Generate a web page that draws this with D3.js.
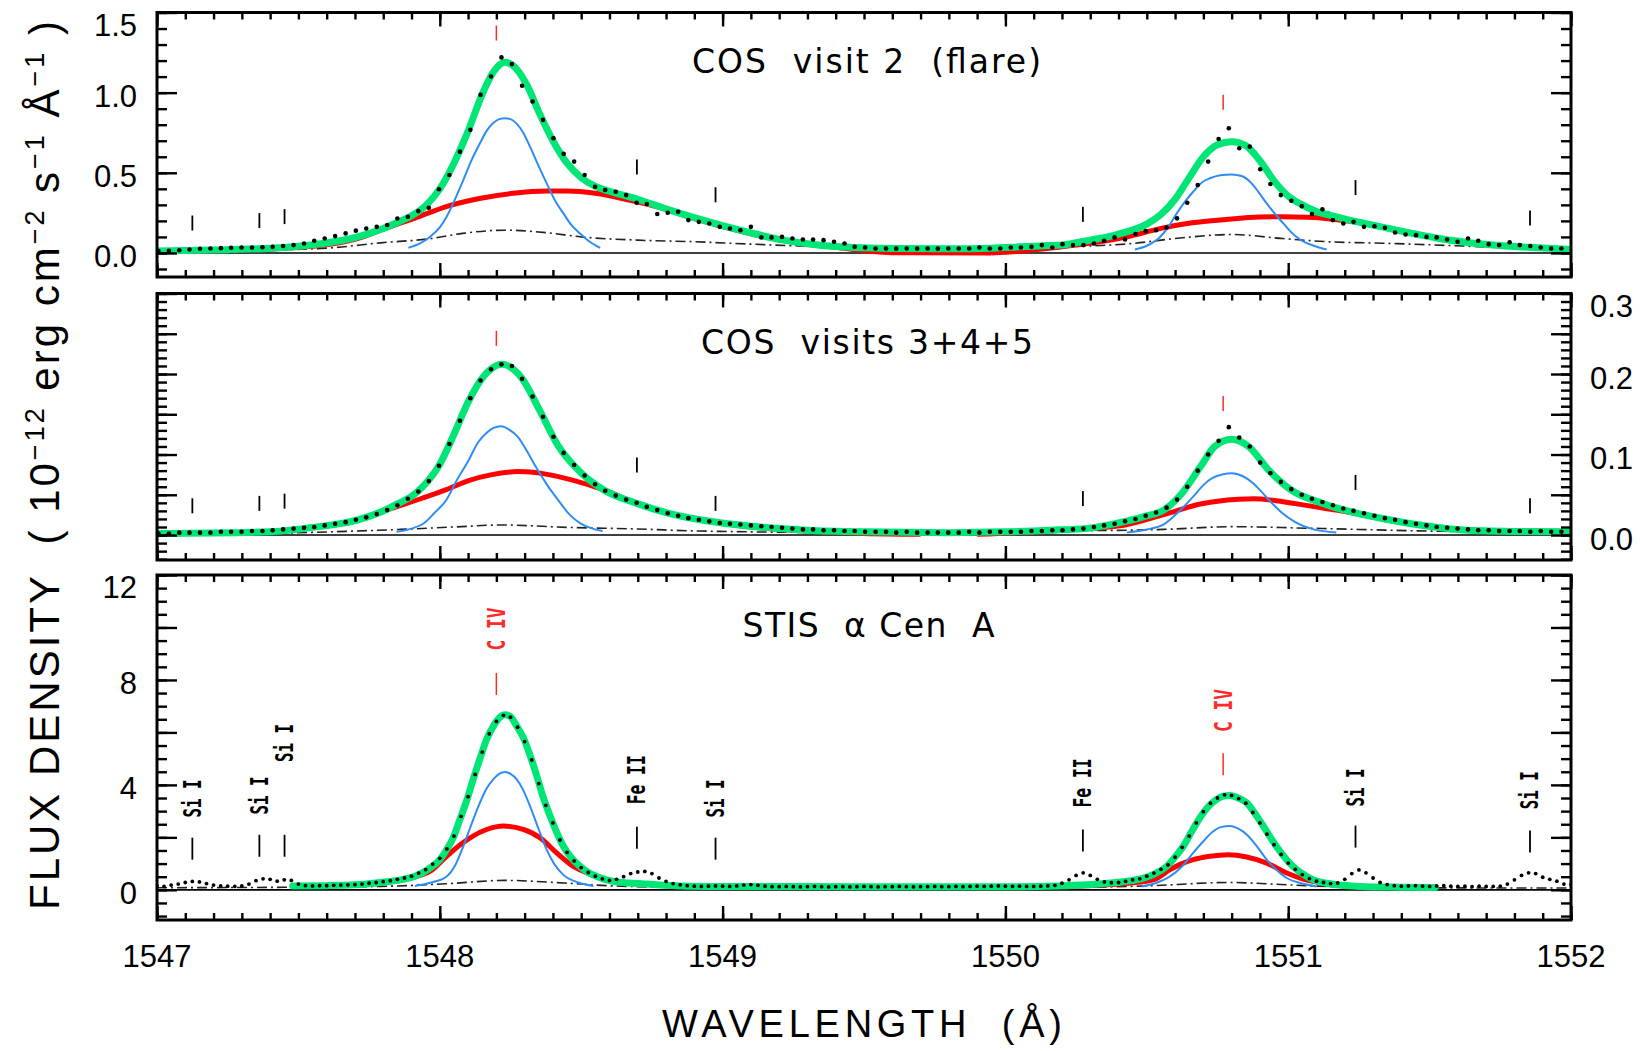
<!DOCTYPE html>
<html>
<head>
<meta charset="utf-8">
<script src="https://cdn.jsdelivr.net/npm/d3@7"></script>
<style>
  body { margin: 0; background: #fff; }
  svg { display: block; }
  text { font-family: "Liberation Sans", Arial, sans-serif; fill: #000; }
</style>
</head>
<body>
<svg id="chart" width="1640" height="1051"></svg>
<script>
/*
 * C IV doublet profiles: COS flare, COS quiescent, STIS alpha Cen A
 */

// ---- wavelength grids of the plotted spectra (A) ----
let cosWave = [
  1547.005,1547.042,1547.079,1547.115,1547.152,1547.189,1547.226,1547.262,1547.299,1547.336,
  1547.373,1547.409,1547.446,1547.483,1547.520,1547.556,1547.593,1547.630,1547.667,1547.703,
  1547.740,1547.777,1547.814,1547.850,1547.887,1547.924,1547.961,1547.997,1548.034,1548.071,
  1548.108,1548.144,1548.181,1548.218,1548.255,1548.291,1548.328,1548.365,1548.402,1548.438,
  1548.475,1548.512,1548.549,1548.585,1548.622,1548.659,1548.696,1548.732,1548.769,1548.806,
  1548.843,1548.879,1548.916,1548.953,1548.990,1549.026,1549.063,1549.100,1549.137,1549.173,
  1549.210,1549.247,1549.284,1549.320,1549.357,1549.394,1549.431,1549.467,1549.504,1549.541,
  1549.578,1549.614,1549.651,1549.688,1549.725,1549.761,1549.798,1549.835,1549.872,1549.908,
  1549.945,1549.982,1550.019,1550.055,1550.092,1550.129,1550.166,1550.202,1550.239,1550.276,
  1550.313,1550.349,1550.386,1550.423,1550.460,1550.496,1550.533,1550.570,1550.607,1550.643,
  1550.680,1550.717,1550.754,1550.790,1550.827,1550.864,1550.901,1550.937,1550.974,1551.011,
  1551.048,1551.084,1551.121,1551.158,1551.195,1551.231,1551.268,1551.305,1551.342,1551.378,
  1551.415,1551.452,1551.489,1551.525,1551.562,1551.599,1551.636,1551.672,1551.709,1551.746,
  1551.783,1551.819,1551.856,1551.893,1551.930,1551.966
];

let stisWave = [
  1547.000,1547.025,1547.050,1547.075,1547.100,1547.125,1547.150,1547.175,1547.200,1547.225,
  1547.250,1547.275,1547.300,1547.325,1547.350,1547.375,1547.400,1547.425,1547.450,1547.475,
  1547.500,1547.525,1547.550,1547.575,1547.600,1547.625,1547.650,1547.675,1547.700,1547.725,
  1547.750,1547.775,1547.800,1547.825,1547.850,1547.875,1547.900,1547.925,1547.950,1547.975,
  1548.000,1548.025,1548.050,1548.075,1548.100,1548.125,1548.150,1548.175,1548.200,1548.225,
  1548.250,1548.275,1548.300,1548.325,1548.350,1548.375,1548.400,1548.425,1548.450,1548.475,
  1548.500,1548.525,1548.550,1548.575,1548.600,1548.625,1548.650,1548.675,1548.700,1548.725,
  1548.750,1548.775,1548.800,1548.825,1548.850,1548.875,1548.900,1548.925,1548.950,1548.975,
  1549.000,1549.025,1549.050,1549.075,1549.100,1549.125,1549.150,1549.175,1549.200,1549.225,
  1549.250,1549.275,1549.300,1549.325,1549.350,1549.375,1549.400,1549.425,1549.450,1549.475,
  1549.500,1549.525,1549.550,1549.575,1549.600,1549.625,1549.650,1549.675,1549.700,1549.725,
  1549.750,1549.775,1549.800,1549.825,1549.850,1549.875,1549.900,1549.925,1549.950,1549.975,
  1550.000,1550.025,1550.050,1550.075,1550.100,1550.125,1550.150,1550.175,1550.200,1550.225,
  1550.250,1550.275,1550.300,1550.325,1550.350,1550.375,1550.400,1550.425,1550.450,1550.475,
  1550.500,1550.525,1550.550,1550.575,1550.600,1550.625,1550.650,1550.675,1550.700,1550.725,
  1550.750,1550.775,1550.800,1550.825,1550.850,1550.875,1550.900,1550.925,1550.950,1550.975,
  1551.000,1551.025,1551.050,1551.075,1551.100,1551.125,1551.150,1551.175,1551.200,1551.225,
  1551.250,1551.275,1551.300,1551.325,1551.350,1551.375,1551.400,1551.425,1551.450,1551.475,
  1551.500,1551.525,1551.550,1551.575,1551.600,1551.625,1551.650,1551.675,1551.700,1551.725,
  1551.750,1551.775,1551.800,1551.825,1551.850,1551.875,1551.900,1551.925,1551.950,1551.975,
  1552.000
];

// ---- observed flux (dots), 10^-12 erg cm-2 s-1 A-1 ----
let flareDots = [
  0.012,0.013,0.017,0.022,0.026,0.028,0.030,0.032,0.034,0.034,
  0.036,0.038,0.043,0.049,0.059,0.076,0.090,0.105,0.122,0.139,
  0.153,0.163,0.174,0.215,0.226,0.261,0.282,0.397,0.486,0.632,
  0.768,0.986,1.101,1.220,1.178,1.043,0.945,0.830,0.716,0.618,
  0.570,0.486,0.413,0.393,0.382,0.361,0.313,0.305,0.243,0.251,
  0.257,0.205,0.194,0.184,0.163,0.153,0.142,0.163,0.097,0.097,
  0.100,0.090,0.084,0.084,0.080,0.070,0.059,0.038,0.034,0.028,
  0.028,0.027,0.028,0.027,0.028,0.027,0.028,0.028,0.028,0.034,
  0.028,0.028,0.034,0.034,0.038,0.049,0.034,0.055,0.049,0.049,
  0.059,0.076,0.097,0.084,0.118,0.136,0.142,0.159,0.216,0.313,
  0.424,0.570,0.711,0.778,0.653,0.663,0.522,0.430,0.361,0.326,
  0.292,0.243,0.272,0.205,0.184,0.194,0.163,0.167,0.157,0.128,
  0.115,0.111,0.100,0.097,0.084,0.070,0.090,0.076,0.055,0.049,
  0.066,0.049,0.043,0.034,0.028,0.028
];

let quietDots = [
  0.002,0.002,0.003,0.003,0.003,0.003,0.004,0.004,0.004,0.005,
  0.005,0.006,0.007,0.008,0.009,0.010,0.012,0.014,0.016,0.019,
  0.022,0.026,0.031,0.037,0.045,0.054,0.067,0.086,0.113,0.142,
  0.170,0.192,0.206,0.212,0.210,0.194,0.172,0.147,0.122,0.102,
  0.087,0.074,0.063,0.055,0.049,0.044,0.040,0.035,0.031,0.027,
  0.024,0.021,0.019,0.017,0.015,0.014,0.013,0.012,0.011,0.010,
  0.009,0.008,0.007,0.007,0.006,0.006,0.005,0.005,0.004,0.004,
  0.004,0.003,0.004,0.003,0.003,0.003,0.003,0.003,0.004,0.003,
  0.004,0.004,0.004,0.004,0.005,0.005,0.006,0.006,0.007,0.008,
  0.010,0.012,0.014,0.017,0.020,0.024,0.028,0.034,0.044,0.060,
  0.080,0.100,0.117,0.134,0.121,0.110,0.090,0.077,0.066,0.057,
  0.050,0.045,0.041,0.037,0.033,0.030,0.027,0.024,0.021,0.019,
  0.016,0.014,0.012,0.010,0.009,0.008,0.007,0.006,0.006,0.005,
  0.005,0.005,0.004,0.005,0.004,0.004
];

let stisDots = [
  0.15,0.13,0.18,0.22,0.28,0.32,0.30,0.24,0.18,0.15,
  0.14,0.13,0.15,0.22,0.35,0.42,0.40,0.33,0.38,0.36,
  0.22,0.16,0.15,0.16,0.16,0.17,0.18,0.19,0.20,0.22,
  0.25,0.28,0.31,0.35,0.40,0.45,0.52,0.64,0.77,0.98,
  1.20,1.56,2.05,2.80,3.55,4.40,5.25,5.95,6.42,6.65,
  6.58,6.20,5.65,4.95,4.05,3.22,2.55,1.90,1.43,1.10,
  0.85,0.66,0.52,0.42,0.36,0.40,0.50,0.62,0.68,0.70,
  0.62,0.45,0.32,0.24,0.19,0.16,0.14,0.13,0.14,0.15,
  0.14,0.13,0.15,0.18,0.20,0.17,0.14,0.12,0.12,0.13,
  0.12,0.11,0.12,0.13,0.12,0.11,0.12,0.12,0.11,0.12,
  0.13,0.12,0.11,0.12,0.12,0.13,0.12,0.11,0.12,0.12,
  0.13,0.12,0.12,0.13,0.12,0.13,0.14,0.13,0.14,0.15,
  0.14,0.13,0.14,0.13,0.13,0.14,0.15,0.17,0.25,0.38,
  0.55,0.65,0.55,0.40,0.30,0.27,0.28,0.32,0.38,0.42,
  0.52,0.64,0.78,0.95,1.25,1.62,2.05,2.55,2.98,3.30,
  3.50,3.62,3.60,3.48,3.30,2.95,2.55,2.12,1.72,1.35,
  1.02,0.78,0.58,0.43,0.33,0.28,0.24,0.26,0.40,0.62,
  0.76,0.65,0.45,0.28,0.20,0.16,0.14,0.15,0.16,0.14,
  0.13,0.15,0.16,0.14,0.13,0.14,0.12,0.14,0.13,0.13,
  0.14,0.22,0.38,0.55,0.65,0.62,0.48,0.40,0.33,0.22,
  0.20
];

// ---- fitted profiles [wavelength, flux] ----
// flare (COS visit 2)
let flareTotal = [
  [1547.00,0.012],[1547.20,0.018],[1547.40,0.030],[1547.50,0.042],[1547.60,0.062],[1547.70,0.095],
  [1547.80,0.152],[1547.85,0.190],[1547.90,0.232],[1547.95,0.295],[1548.00,0.400],[1548.05,0.560],
  [1548.10,0.760],[1548.15,0.990],[1548.19,1.130],[1548.23,1.190],[1548.27,1.150],[1548.31,1.040],
  [1548.35,0.880],[1548.40,0.700],[1548.45,0.560],[1548.50,0.470],[1548.55,0.415],[1548.60,0.385],
  [1548.70,0.335],[1548.80,0.275],[1548.90,0.220],[1549.00,0.170],[1549.10,0.125],[1549.20,0.085],
  [1549.30,0.058],[1549.40,0.040],[1549.50,0.032],[1549.60,0.028],[1549.80,0.026],[1549.95,0.030],
  [1550.05,0.038],[1550.15,0.046],[1550.20,0.050],[1550.30,0.080],[1550.40,0.118],[1550.50,0.180],
  [1550.55,0.240],[1550.60,0.335],[1550.65,0.470],[1550.70,0.600],[1550.75,0.675],[1550.80,0.694],
  [1550.85,0.670],[1550.90,0.575],[1550.95,0.450],[1551.00,0.355],[1551.05,0.300],[1551.10,0.258],
  [1551.15,0.235],[1551.25,0.192],[1551.35,0.155],[1551.45,0.118],[1551.55,0.085],[1551.65,0.062],
  [1551.75,0.046],[1551.85,0.035],[1551.95,0.027],[1552.00,0.022]
];
let flareBroadA = [
  [1547.00,0.008],[1547.20,0.014],[1547.40,0.025],[1547.55,0.042],[1547.65,0.065],[1547.72,0.095],
  [1547.79,0.142],[1547.85,0.180],[1547.91,0.216],[1548.02,0.288],[1548.14,0.340],[1548.26,0.372],
  [1548.38,0.386],[1548.45,0.386],[1548.55,0.372],[1548.67,0.330],[1548.79,0.278],[1548.90,0.215],
  [1549.00,0.165],[1549.10,0.120],[1549.20,0.082],[1549.30,0.054],[1549.40,0.036],[1549.50,0.013],
  [1549.60,0.002],[1549.95,0.000]
];
let flareBroadB = [
  [1549.95,0.000],[1550.05,0.010],[1550.19,0.036],[1550.31,0.063],[1550.43,0.100],[1550.55,0.153],
  [1550.66,0.188],[1550.78,0.209],[1550.90,0.224],[1550.98,0.226],[1551.07,0.222],[1551.14,0.214],
  [1551.25,0.190],[1551.35,0.155],[1551.45,0.118],[1551.55,0.085],[1551.65,0.062],[1551.75,0.045],
  [1551.85,0.034],[1551.95,0.026],[1552.00,0.022]
];
let flareNarrowA = [
  [1547.889,0.032],[1547.930,0.060],[1547.965,0.100],[1548.000,0.160],[1548.024,0.226],[1548.050,0.320],
  [1548.083,0.455],[1548.110,0.570],[1548.142,0.684],[1548.165,0.760],[1548.189,0.810],[1548.210,0.835],
  [1548.230,0.840],[1548.250,0.835],[1548.270,0.810],[1548.295,0.750],[1548.319,0.663],[1548.350,0.540],
  [1548.378,0.434],[1548.410,0.320],[1548.437,0.247],[1548.465,0.175],[1548.496,0.122],[1548.530,0.070],
  [1548.567,0.032]
];
let flareNarrowB = [
  [1550.458,0.022],[1550.500,0.045],[1550.547,0.100],[1550.575,0.160],[1550.606,0.247],[1550.635,0.320],
  [1550.664,0.382],[1550.695,0.440],[1550.723,0.466],[1550.760,0.485],[1550.800,0.490],[1550.835,0.480],
  [1550.865,0.444],[1550.895,0.380],[1550.924,0.309],[1550.955,0.240],[1550.983,0.184],[1551.010,0.130],
  [1551.042,0.084],[1551.090,0.045],[1551.136,0.022]
];
let flareOther = [
  [1547.00,0.008],[1547.30,0.015],[1547.60,0.030],[1547.79,0.063],[1547.97,0.090],[1548.08,0.122],
  [1548.23,0.142],[1548.38,0.126],[1548.50,0.100],[1548.70,0.080],[1548.90,0.070],[1549.10,0.055],
  [1549.25,0.045],[1549.50,0.032],[1549.80,0.026],[1550.00,0.030],[1550.19,0.038],[1550.45,0.059],
  [1550.60,0.090],[1550.80,0.115],[1550.98,0.090],[1551.14,0.070],[1551.35,0.060],[1551.62,0.043],
  [1551.75,0.034],[1552.00,0.022]
];

// quiescent (COS visits 3+4+5)
let quietTotal = [
  [1547.00,0.002],[1547.40,0.004],[1547.55,0.0095],[1547.71,0.0187],[1547.83,0.035],[1547.94,0.060],
  [1548.00,0.088],[1548.05,0.125],[1548.10,0.165],[1548.15,0.195],[1548.18,0.206],[1548.22,0.212],
  [1548.26,0.206],[1548.29,0.195],[1548.35,0.157],[1548.42,0.110],[1548.50,0.077],[1548.58,0.056],
  [1548.69,0.040],[1548.81,0.027],[1548.92,0.019],[1549.10,0.011],[1549.30,0.006],[1549.50,0.004],
  [1549.80,0.003],[1550.00,0.004],[1550.16,0.006],[1550.29,0.0083],[1550.42,0.0166],[1550.49,0.023],
  [1550.56,0.031],[1550.62,0.050],[1550.69,0.085],[1550.74,0.110],[1550.80,0.119],[1550.86,0.110],
  [1550.93,0.081],[1551.01,0.056],[1551.12,0.0395],[1551.22,0.029],[1551.36,0.0187],[1551.49,0.0112],
  [1551.62,0.0062],[1551.80,0.0045],[1552.00,0.004]
];
let quietBroadA = [
  [1547.00,0.002],[1547.40,0.004],[1547.55,0.009],[1547.71,0.018],[1547.83,0.033],[1547.94,0.046],
  [1548.02,0.056],[1548.11,0.0685],[1548.18,0.0747],[1548.276,0.0788],[1548.37,0.076],[1548.466,0.0685],
  [1548.58,0.056],[1548.69,0.040],[1548.81,0.027],[1548.92,0.019],[1549.10,0.010],[1549.30,0.005],
  [1549.50,0.002],[1549.70,0.001]
];
let quietBroadB = [
  [1549.90,0.001],[1550.16,0.005],[1550.29,0.008],[1550.424,0.0125],[1550.557,0.025],[1550.69,0.0386],
  [1550.823,0.0444],[1550.878,0.0452],[1550.957,0.0427],[1551.09,0.0353],[1551.17,0.031],[1551.22,0.028],
  [1551.36,0.018],[1551.49,0.011],[1551.62,0.006],[1551.80,0.0042],[1552.00,0.0038]
];
let quietNarrowA = [
  [1547.847,0.004],[1547.900,0.008],[1547.944,0.0146],[1547.980,0.027],[1548.023,0.0436],[1548.060,0.068],
  [1548.102,0.093],[1548.135,0.115],[1548.166,0.127],[1548.190,0.133],[1548.216,0.135],[1548.245,0.131],
  [1548.276,0.122],[1548.310,0.103],[1548.339,0.085],[1548.380,0.062],[1548.418,0.0436],[1548.460,0.025],
  [1548.497,0.0146],[1548.540,0.008],[1548.576,0.005]
];
let quietNarrowB = [
  [1550.430,0.0033],[1550.500,0.007],[1550.557,0.0125],[1550.610,0.028],[1550.664,0.0477],[1550.700,0.062],
  [1550.731,0.0706],[1550.770,0.0755],[1550.800,0.0768],[1550.840,0.073],[1550.876,0.0644],[1550.910,0.052],
  [1550.943,0.0395],[1550.980,0.027],[1551.022,0.0166],[1551.090,0.007],[1551.170,0.0033]
];
let quietOther = [
  [1547.00,0.000],[1547.55,0.0033],[1547.86,0.007],[1548.05,0.010],[1548.22,0.0125],[1548.45,0.0095],
  [1548.70,0.0075],[1548.92,0.005],[1549.50,0.003],[1550.16,0.005],[1550.56,0.007],[1550.80,0.0104],
  [1551.09,0.0083],[1551.49,0.005],[1552.00,0.0033]
];

// alpha Cen A (STIS)
let stisTotal = [
  [1547.48,0.15],[1547.60,0.16],[1547.70,0.19],[1547.79,0.28],[1547.87,0.40],[1547.91,0.51],
  [1547.965,0.83],[1548.00,1.15],[1548.024,1.53],[1548.05,2.05],[1548.071,2.68],[1548.095,3.40],
  [1548.118,4.21],[1548.142,5.00],[1548.166,5.75],[1548.19,6.25],[1548.21,6.55],[1548.231,6.67],
  [1548.25,6.60],[1548.27,6.28],[1548.295,5.81],[1548.32,5.10],[1548.343,4.34],[1548.365,3.55],
  [1548.39,2.81],[1548.413,2.20],[1548.437,1.66],[1548.465,1.22],[1548.496,0.89],[1548.525,0.66],
  [1548.555,0.51],[1548.613,0.32],[1548.67,0.26],[1548.732,0.22],[1548.85,0.15],[1549.00,0.13],
  [1549.50,0.12],[1550.00,0.12],[1550.19,0.15],[1550.37,0.26],[1550.43,0.33],[1550.488,0.45],
  [1550.53,0.62],[1550.57,0.89],[1550.60,1.25],[1550.629,1.66],[1550.66,2.25],[1550.688,2.75],
  [1550.72,3.20],[1550.747,3.45],[1550.77,3.57],[1550.794,3.60],[1550.82,3.52],[1550.853,3.32],
  [1550.88,2.95],[1550.912,2.43],[1550.94,1.95],[1550.971,1.47],[1551.00,1.08],[1551.03,0.77],
  [1551.06,0.55],[1551.089,0.38],[1551.13,0.26],[1551.171,0.19],[1551.254,0.13],[1551.40,0.10],
  [1551.52,0.09]
];
let stisBroadA = [
  [1547.48,0.14],[1547.70,0.18],[1547.85,0.34],[1547.93,0.55],[1547.965,0.70],[1548.024,1.28],
  [1548.07,1.70],[1548.107,1.98],[1548.166,2.30],[1548.225,2.43],[1548.295,2.30],[1548.355,1.98],
  [1548.413,1.41],[1548.472,0.89],[1548.53,0.60],[1548.60,0.36],[1548.70,0.24],[1548.85,0.15],
  [1549.00,0.12]
];
let stisBroadB = [
  [1550.19,0.13],[1550.40,0.22],[1550.523,0.38],[1550.582,0.77],[1550.62,0.98],[1550.664,1.15],
  [1550.723,1.28],[1550.788,1.34],[1550.853,1.25],[1550.924,1.02],[1550.995,0.64],[1551.042,0.45],
  [1551.10,0.30],[1551.20,0.16],[1551.35,0.11],[1551.52,0.09]
];
let stisNarrowA = [
  [1547.912,0.15],[1547.970,0.28],[1548.024,0.51],[1548.055,0.95],[1548.083,1.66],[1548.112,2.50],
  [1548.142,3.32],[1548.165,3.85],[1548.189,4.21],[1548.210,4.42],[1548.231,4.49],[1548.250,4.42],
  [1548.272,4.21],[1548.295,3.80],[1548.319,3.19],[1548.350,2.30],[1548.378,1.53],[1548.405,0.98],
  [1548.437,0.57],[1548.490,0.28],[1548.543,0.15]
];
let stisNarrowB = [
  [1550.482,0.13],[1550.530,0.25],[1550.582,0.51],[1550.625,0.90],[1550.664,1.41],[1550.700,1.85],
  [1550.735,2.23],[1550.765,2.40],[1550.794,2.43],[1550.825,2.32],[1550.853,2.11],[1550.890,1.65],
  [1550.924,1.15],[1550.960,0.75],[1550.995,0.45],[1551.050,0.24],[1551.100,0.13]
];
let stisOther = [
  [1547.00,0.08],[1547.50,0.10],[1547.79,0.13],[1548.02,0.23],[1548.23,0.36],[1548.44,0.26],
  [1548.61,0.15],[1548.85,0.10],[1549.50,0.08],[1550.19,0.09],[1550.50,0.15],[1550.79,0.28],
  [1551.00,0.19],[1551.25,0.09],[1551.85,0.07],[1552.00,0.07]
];

// ---- line identifications ----
let lineNames = ['Si I', 'Si I', 'Si I', 'Fe II', 'Si I', 'Fe II', 'Si I', 'Si I'];
let lineWave = [1547.125, 1547.362, 1547.451, 1548.697, 1548.975, 1550.274, 1551.238, 1551.855];
let civWave = [1548.20, 1550.77];
let flareMarkY = [0.14, 0.155, 0.18, 0.49, 0.316, 0.194, 0.361, 0.172];
let flareCivY = [1.325, 0.893];
let quietMarkY = [0.027, 0.030, 0.0328, 0.0776, 0.030, 0.036, 0.056, 0.027];
let quietCivY = [0.235, 0.154];
let stisMarkY = [1.15, 1.26, 1.26, 1.57, 1.15, 1.46, 1.61, 1.42];
let stisCivY = [7.43, 4.37];
let stisLabelY = [2.76, 2.87, 4.87, 3.26, 2.76, 3.14, 3.18, 3.07];
let stisCivLabelY = [9.12, 6.02];

// ---- axes ----
let waveRange = [1547, 1552];
let waveTickLabels = [1547, 1548, 1549, 1550, 1551, 1552];
let flareTickLabels = [0, 0.5, 1.0, 1.5];
let quietTickLabels = [0, 0.1, 0.2, 0.3];
let stisTickLabels = [0, 4, 8, 12];
let panelTitles = ['COS  visit 2  (flare)', 'COS  visits 3+4+5', 'STIS  \u03b1 Cen  A'];

// ---- layout ----
let plotLeft = 157, plotRight = 1571;
let panelBoxes = [
  { top: 12.5, bottom: 277 },
  { top: 293.5, bottom: 560 },
  { top: 575, bottom: 920 }
];
let titleLayout = [
  { cx: 866.5, base: 73, len: 349 },
  { cx: 867, base: 354, len: 332 },
  { cx: 868.5, base: 637, len: 252 }
];
let idLength = { 'Si I': 38, 'Fe II': 49, 'C IV': 43 };

let COLORS = {
  total: '#00e676',
  broad: '#ff0000',
  narrow: '#2f8cf2',
  other: '#222',
  civ: '#ff2a2a'
};

let panels = [
  {
    yDomain: [-0.15, 1.5], minor: 0.1, major: 0.5,
    wave: cosWave, dots: flareDots, dotR: 2.3,
    total: flareTotal, broad: [flareBroadA, flareBroadB], narrow: [flareNarrowA, flareNarrowB], other: flareOther,
    markY: flareMarkY, civY: flareCivY, markLen: 15,
    labels: flareTickLabels, labelSide: 'left', fmt: d3.format('.1f')
  },
  {
    yDomain: [-0.031, 0.3], minor: 0.01, major: 0.05,
    wave: cosWave, dots: quietDots, dotR: 2.3,
    total: quietTotal, broad: [quietBroadA, quietBroadB], narrow: [quietNarrowA, quietNarrowB], other: quietOther,
    markY: quietMarkY, civY: quietCivY, markLen: 15,
    labels: quietTickLabels, labelSide: 'right', fmt: d3.format('.1f')
  },
  {
    yDomain: [-1.15, 12.0], minor: 0.5, major: 2,
    wave: stisWave, dots: stisDots, dotR: 1.9,
    total: stisTotal, broad: [stisBroadA, stisBroadB], narrow: [stisNarrowA, stisNarrowB], other: stisOther,
    markY: stisMarkY, civY: stisCivY, markLen: 22,
    labelY: stisLabelY, civLabelY: stisCivLabelY,
    labels: stisTickLabels, labelSide: 'left', fmt: d3.format('d')
  }
];

let svg = d3.select('#chart');
let x = d3.scaleLinear().domain(waveRange).range([plotLeft, plotRight]);

function stepValues(lo, hi, step) {
  let out = [];
  let n0 = Math.ceil(lo / step - 1e-6), n1 = Math.floor(hi / step + 1e-6);
  for (let n = n0; n <= n1; n++) out.push(+(n * step).toFixed(4));
  return out;
}

function ticks(g, axis, values, size, transform) {
  g.append('g')
    .attr('transform', transform)
    .call(axis.tickValues(values).tickSize(size).tickFormat(''))
    .call(s => s.select('.domain').remove())
    .selectAll('line')
      .attr('stroke', '#000')
      .attr('stroke-width', 2.4);
}

panels.forEach(function (p, i) {
  let box = panelBoxes[i];
  let y = d3.scaleLinear().domain(p.yDomain).range([box.bottom, box.top]);
  let line = d3.line().x(d => x(d[0])).y(d => y(d[1])).curve(d3.curveMonotoneX);
  let g = svg.append('g').attr('class', 'panel');

  svg.append('clipPath').attr('id', 'clip' + i)
    .append('rect')
      .attr('x', plotLeft).attr('y', box.top)
      .attr('width', plotRight - plotLeft).attr('height', box.bottom - box.top);

  let plot = g.append('g').attr('clip-path', 'url(#clip' + i + ')');

  // zero level
  plot.append('line')
    .attr('x1', x(waveRange[0])).attr('x2', x(waveRange[1]))
    .attr('y1', y(0)).attr('y2', y(0))
    .attr('stroke', '#000').attr('stroke-width', 1.6);

  plot.append('path').datum(p.other)
    .attr('d', line)
    .attr('fill', 'none').attr('stroke', COLORS.other)
    .attr('stroke-width', 1.6).attr('stroke-dasharray', '10,4,2,4');

  p.broad.forEach(c => plot.append('path').datum(c)
    .attr('d', line).attr('fill', 'none')
    .attr('stroke', COLORS.broad).attr('stroke-width', 5));

  p.narrow.forEach(c => plot.append('path').datum(c)
    .attr('d', line).attr('fill', 'none')
    .attr('stroke', COLORS.narrow).attr('stroke-width', 2));

  plot.append('path').datum(p.total)
    .attr('d', line).attr('fill', 'none')
    .attr('stroke', COLORS.total).attr('stroke-width', 7)
    .attr('stroke-linecap', 'round');

  plot.selectAll('circle.obs')
    .data(p.wave.map((w, k) => [w, p.dots[k]]))
    .join('circle')
      .attr('class', 'obs')
      .attr('cx', d => x(d[0]))
      .attr('cy', d => y(d[1]))
      .attr('r', p.dotR)
      .attr('fill', '#000');

  // line id marks
  g.selectAll('line.mark')
    .data(lineWave.map((w, k) => [w, p.markY[k]]))
    .join('line')
      .attr('class', 'mark')
      .attr('x1', d => x(d[0])).attr('x2', d => x(d[0]))
      .attr('y1', d => y(d[1])).attr('y2', d => y(d[1]) - p.markLen)
      .attr('stroke', '#000').attr('stroke-width', 1.8);

  g.selectAll('line.civ')
    .data(civWave.map((w, k) => [w, p.civY[k]]))
    .join('line')
      .attr('class', 'civ')
      .attr('x1', d => x(d[0])).attr('x2', d => x(d[0]))
      .attr('y1', d => y(d[1])).attr('y2', d => y(d[1]) - p.markLen)
      .attr('stroke', COLORS.civ).attr('stroke-width', 1.5);

  if (p.labelY) {
    g.selectAll('text.lineid')
      .data(lineWave.map((w, k) => ({ w: w, v: p.labelY[k], name: lineNames[k], color: '#000' }))
        .concat(civWave.map((w, k) => ({ w: w, v: p.civLabelY[k], name: 'C IV', color: COLORS.civ }))))
      .join('text')
        .attr('class', 'lineid')
        .attr('transform', d => 'translate(' + x(d.w) + ',' + y(d.v) + ') rotate(-90)')
        .attr('dominant-baseline', 'central')
        .attr('textLength', d => idLength[d.name])
        .attr('lengthAdjust', 'spacingAndGlyphs')
        .style('font-family', '"DejaVu Sans Mono", monospace')
        .style('font-weight', 'bold')
        .style('font-size', '25px')
        .style('white-space', 'pre')
        .style('fill', d => d.color)
        .text(d => d.name);
  }

  // frame
  g.append('rect')
    .attr('x', plotLeft).attr('y', box.top)
    .attr('width', plotRight - plotLeft).attr('height', box.bottom - box.top)
    .attr('fill', 'none').attr('stroke', '#000').attr('stroke-width', 3);

  // x ticks, top and bottom
  let xMinor = stepValues(waveRange[0], waveRange[1], 0.1);
  let xMajor = stepValues(waveRange[0], waveRange[1], 1);
  ticks(g, d3.axisBottom(x), xMinor, -7, 'translate(0,' + box.bottom + ')');
  ticks(g, d3.axisBottom(x), xMajor, -14, 'translate(0,' + box.bottom + ')');
  ticks(g, d3.axisTop(x), xMinor, -7, 'translate(0,' + box.top + ')');
  ticks(g, d3.axisTop(x), xMajor, -14, 'translate(0,' + box.top + ')');

  // y ticks, left and right
  let yMinor = stepValues(p.yDomain[0], p.yDomain[1], p.minor);
  let yMajor = stepValues(p.yDomain[0], p.yDomain[1], p.major);
  ticks(g, d3.axisLeft(y), yMinor, -10, 'translate(' + plotLeft + ',0)');
  ticks(g, d3.axisLeft(y), yMajor, -20, 'translate(' + plotLeft + ',0)');
  ticks(g, d3.axisRight(y), yMinor, -10, 'translate(' + plotRight + ',0)');
  ticks(g, d3.axisRight(y), yMajor, -20, 'translate(' + plotRight + ',0)');

  // y tick labels
  g.selectAll('text.ylab')
    .data(p.labels)
    .join('text')
      .attr('class', 'ylab')
      .attr('x', p.labelSide === 'left' ? plotLeft - 20 : plotRight + 19)
      .attr('y', d => Math.max(y(d) + 4, box.top + 12.5))
      .attr('text-anchor', p.labelSide === 'left' ? 'end' : 'start')
      .attr('dominant-baseline', 'central')
      .style('font-size', '31px')
      .text(p.fmt);

  // panel title
  let t = titleLayout[i];
  g.append('text')
    .attr('x', t.cx).attr('y', t.base)
    .attr('text-anchor', 'middle')
    .attr('textLength', t.len).attr('lengthAdjust', 'spacing')
    .style('font-family', '"DejaVu Sans", sans-serif')
    .style('font-size', '33px')
    .style('white-space', 'pre')
    .text(panelTitles[i]);
});

// x tick labels under the last panel
svg.selectAll('text.xlab')
  .data(waveTickLabels)
  .join('text')
    .attr('class', 'xlab')
    .attr('x', d => x(d))
    .attr('y', 967)
    .attr('text-anchor', 'middle')
    .style('font-size', '31px')
    .text(d => d);

// axis titles
svg.append('text')
  .attr('x', 862).attr('y', 1037)
  .attr('text-anchor', 'middle')
  .attr('textLength', 400).attr('lengthAdjust', 'spacing')
  .style('font-size', '38px')
  .style('white-space', 'pre')
  .text('WAVELENGTH  (\u00c5)');

let ytitle = svg.append('text')
  .attr('transform', 'translate(59,910) rotate(-90)')
  .attr('textLength', 889).attr('lengthAdjust', 'spacing')
  .style('font-size', '42px')
  .style('white-space', 'pre');
ytitle.append('tspan').text('FLUX DENSITY  ( 10');
ytitle.append('tspan').attr('baseline-shift', 'super').style('font-size', '27px').text('\u221212');
ytitle.append('tspan').text(' erg cm');
ytitle.append('tspan').attr('baseline-shift', 'super').style('font-size', '27px').text('\u22122');
ytitle.append('tspan').text(' s');
ytitle.append('tspan').attr('baseline-shift', 'super').style('font-size', '27px').text('\u22121');
ytitle.append('tspan').text(' \u00c5');
ytitle.append('tspan').attr('baseline-shift', 'super').style('font-size', '27px').text('\u22121');
ytitle.append('tspan').text(' )');
</script>
</body>
</html>
